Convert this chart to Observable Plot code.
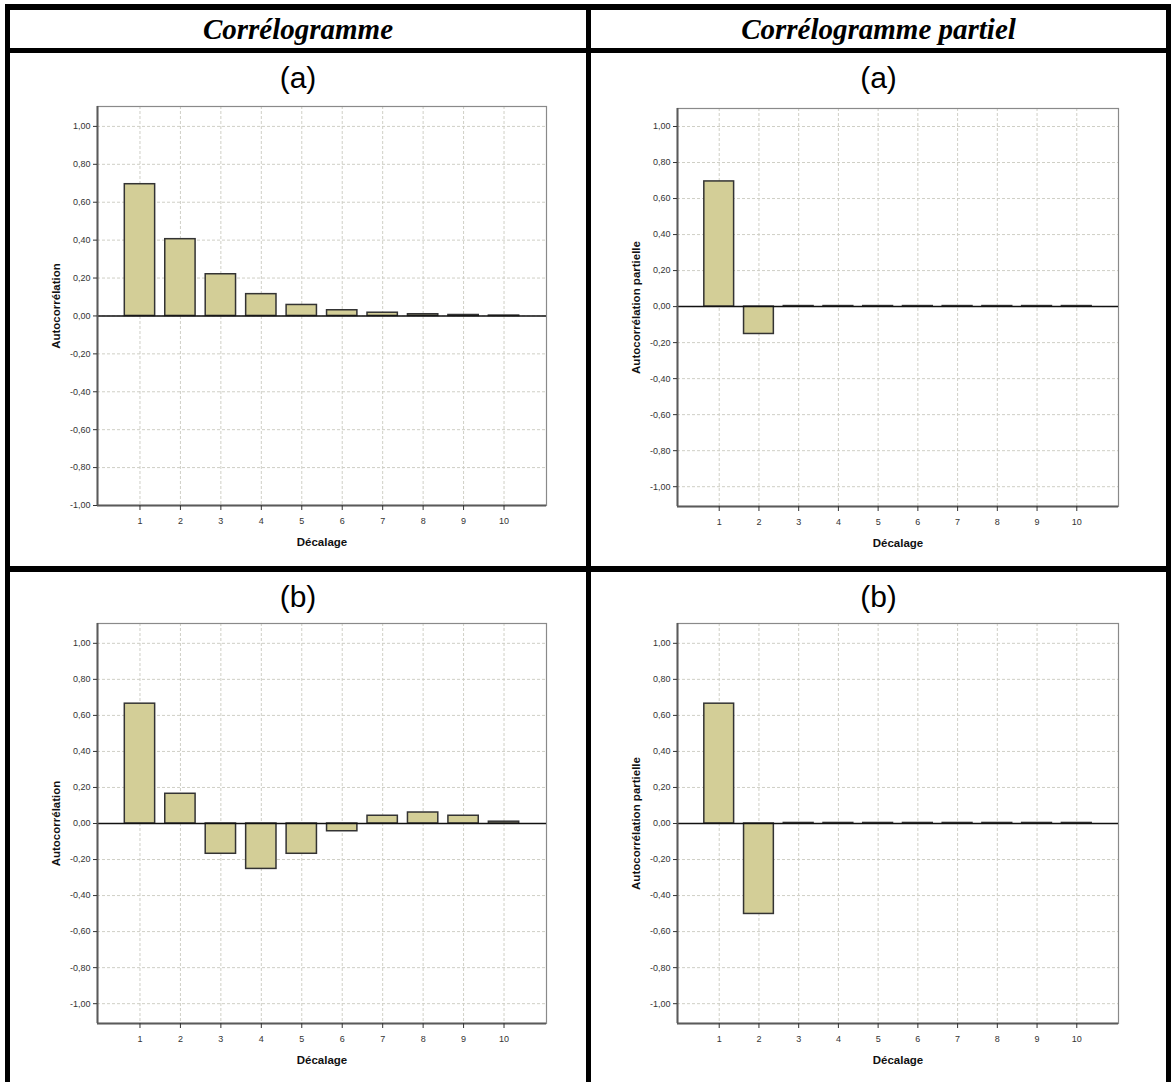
<!DOCTYPE html>
<html><head><meta charset="utf-8">
<script src="https://cdn.jsdelivr.net/npm/d3@7"></script>
<script src="https://cdn.jsdelivr.net/npm/@observablehq/plot@0.6"></script>
<style>
body{margin:0;background:#fff;}
#page{position:relative;width:1171px;height:1082px;overflow:hidden;background:#fff;}
.rule{position:absolute;background:#000;}
.hdr{position:absolute;font-family:"Liberation Serif",serif;font-style:italic;font-weight:bold;font-size:29px;text-align:center;line-height:1;color:#000;white-space:nowrap;}
.sub{position:absolute;font-family:"Liberation Sans Narrow","Liberation Sans",sans-serif;font-size:30px;text-align:center;line-height:1;color:#000;}
.panel{position:absolute;}
.panel svg{overflow:visible;}
.panel g[aria-label="y-axis label"] text,.panel g[aria-label="x-axis label"] text{font-weight:bold;font-size:11.5px;fill:#111;}
</style>
</head><body><div id="page"></div>
<script>
// ---- data ----
const lags = [1, 2, 3, 4, 5, 6, 7, 8, 9, 10];
const acfA  = [0.695, 0.405, 0.220, 0.115, 0.058, 0.030, 0.017, 0.009, 0.005, 0.002];
const pacfA = [0.695, -0.152, 0.003, 0.003, 0.003, 0.003, 0.003, 0.003, 0.003, 0.003];
const acfB  = [0.665, 0.165, -0.168, -0.252, -0.168, -0.043, 0.043, 0.061, 0.043, 0.010];
const pacfB = [0.665, -0.502, 0.003, 0.003, 0.003, 0.003, 0.003, 0.003, 0.003, 0.003];
const yTicks = [1.0, 0.8, 0.6, 0.4, 0.2, 0.0, -0.2, -0.4, -0.6, -0.8, -1.0];
const headers = ["Corrélogramme", "Corrélogramme partiel"];
const panelLabels = ["(a)", "(b)"];
const xLabel = "Décalage";
const yLabels = ["Autocorrélation", "Autocorrélation partielle"];

const page = document.getElementById("page");
function box(cls, css, text) {
  const d = document.createElement("div");
  d.className = cls;
  Object.assign(d.style, css);
  if (text != null) d.textContent = text;
  page.appendChild(d);
  return d;
}

// table rules
box("rule", {left: "5px", top: "4px", width: "1166px", height: "6px"});
box("rule", {left: "5px", top: "4px", width: "5px", height: "1078px"});
box("rule", {left: "5px", top: "48px", width: "1166px", height: "5px"});
box("rule", {left: "586px", top: "4px", width: "5px", height: "1078px"});
box("rule", {left: "1166px", top: "4px", width: "5px", height: "1078px"});
box("rule", {left: "5px", top: "566px", width: "1166px", height: "6px"});

const cols = [{left: 10, width: 576}, {left: 591, width: 575}];
const rows = [53, 572];

headers.forEach((h, i) => box("hdr", {left: cols[i].left + "px", width: cols[i].width + "px", top: "15px"}, h));
rows.forEach((top, r) => cols.forEach(c =>
  box("sub", {left: c.left + "px", width: c.width + "px", top: (top + 10) + "px"}, panelLabels[r])));

const fmt = d => d.toFixed(2).replace(".", ",");
const xDomain = [-0.05, 11.05];
const half = 0.375;

function panel(values, yLabel, m, yDomain) {
  const data = lags.map((lag, i) => ({lag, v: values[i]}));
  return Plot.plot({
    width: m.width, height: m.height,
    marginLeft: m.left, marginRight: m.right, marginTop: m.top, marginBottom: m.bottom,
    style: {fontFamily: '"Liberation Sans", Arial, sans-serif', background: "transparent", color: "#333"},
    x: {domain: xDomain},
    y: {domain: yDomain},
    marks: [
      Plot.gridY(yTicks, {stroke: "#cfcfc6", strokeOpacity: 1, strokeDasharray: "3,2"}),
      Plot.gridX(lags, {stroke: "#cfcfc6", strokeOpacity: 1, strokeDasharray: "3,2"}),
      Plot.frame({stroke: "#8a8a8a", strokeWidth: 1.2}),
      Plot.rect(data, {x1: d => d.lag - half, x2: d => d.lag + half, y1: 0, y2: "v",
        fill: "#d3ce97", stroke: "#333", strokeWidth: 1.5}),
      Plot.ruleY([0], {stroke: "#111", strokeWidth: 1.5}),
      Plot.ruleX([xDomain[0]], {stroke: "#5a5a5a", strokeWidth: 2}),
      Plot.ruleY([yDomain[0]], {stroke: "#5a5a5a", strokeWidth: 2}),
      Plot.axisY(yTicks, {tickFormat: fmt, tickSize: 4, tickPadding: 3, fontSize: 9,
        label: yLabel, labelArrow: false, labelAnchor: "center", labelOffset: 46}),
      Plot.axisX(lags, {tickFormat: d => String(d), tickSize: 5, tickPadding: 7, fontSize: 9,
        label: xLabel, labelArrow: false, labelAnchor: "center", labelOffset: 40})
    ]
  });
}

function place(svg, left, top) {
  const d = box("panel", {left: left + "px", top: top + "px"});
  d.appendChild(svg);
}

place(panel(acfA, yLabels[0], {width: 576, height: 460, left: 87, right: 40, top: 6, bottom: 55}, [-1.0, 1.105]), 10, 100);
place(panel(pacfA, yLabels[1], {width: 575, height: 460, left: 86, right: 48, top: 8, bottom: 54}, [-1.11, 1.10]), 591, 100);
place(panel(acfB, yLabels[0], {width: 576, height: 460, left: 87, right: 40, top: 11, bottom: 49}, [-1.11, 1.11]), 10, 612);
place(panel(pacfB, yLabels[1], {width: 575, height: 460, left: 86, right: 48, top: 11, bottom: 49}, [-1.11, 1.11]), 591, 612);
</script>
</body></html>
